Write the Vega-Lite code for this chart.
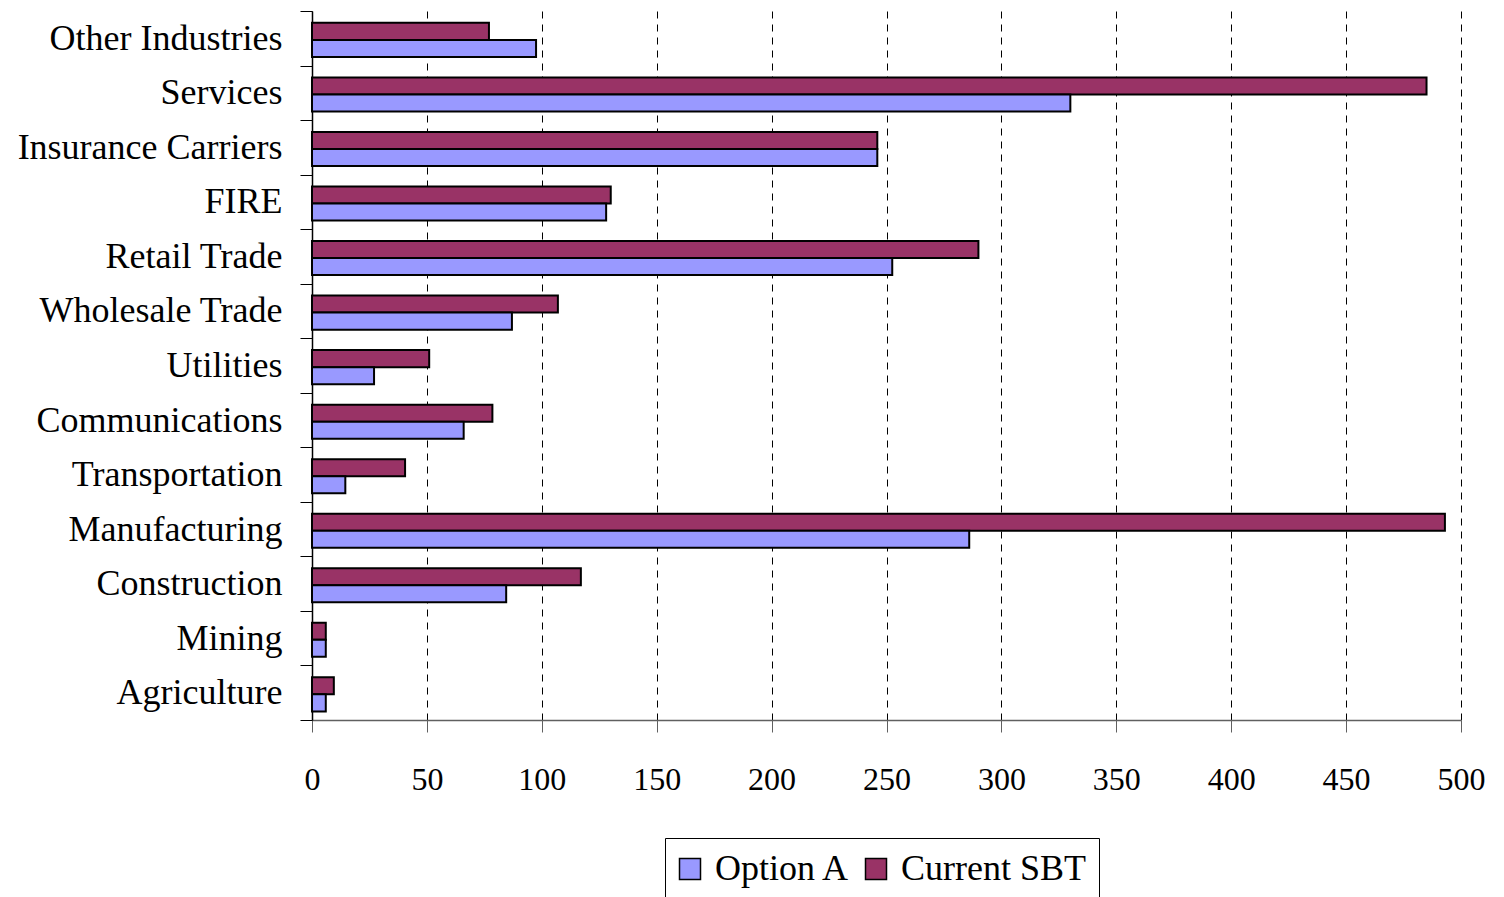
{
  "$schema": "https://vega.github.io/schema/vega-lite/v6.json",
  "width": 1149,
  "height": 709,
  "autosize": {"type": "none"},
  "padding": {"left": 312, "top": 11, "right": 43, "bottom": 177},
  "background": "white",
  "data": {
    "values": [
      {"industry": "Other Industries", "series": "Current SBT", "value": 77},
      {"industry": "Other Industries", "series": "Option A", "value": 97.5},
      {"industry": "Services", "series": "Current SBT", "value": 485},
      {"industry": "Services", "series": "Option A", "value": 330},
      {"industry": "Insurance Carriers", "series": "Current SBT", "value": 246},
      {"industry": "Insurance Carriers", "series": "Option A", "value": 246},
      {"industry": "FIRE", "series": "Current SBT", "value": 130},
      {"industry": "FIRE", "series": "Option A", "value": 128},
      {"industry": "Retail Trade", "series": "Current SBT", "value": 290},
      {"industry": "Retail Trade", "series": "Option A", "value": 252.5},
      {"industry": "Wholesale Trade", "series": "Current SBT", "value": 107},
      {"industry": "Wholesale Trade", "series": "Option A", "value": 87},
      {"industry": "Utilities", "series": "Current SBT", "value": 51},
      {"industry": "Utilities", "series": "Option A", "value": 27},
      {"industry": "Communications", "series": "Current SBT", "value": 78.5},
      {"industry": "Communications", "series": "Option A", "value": 66},
      {"industry": "Transportation", "series": "Current SBT", "value": 40.5},
      {"industry": "Transportation", "series": "Option A", "value": 14.5},
      {"industry": "Manufacturing", "series": "Current SBT", "value": 493},
      {"industry": "Manufacturing", "series": "Option A", "value": 286},
      {"industry": "Construction", "series": "Current SBT", "value": 117},
      {"industry": "Construction", "series": "Option A", "value": 84.5},
      {"industry": "Mining", "series": "Current SBT", "value": 6},
      {"industry": "Mining", "series": "Option A", "value": 6},
      {"industry": "Agriculture", "series": "Current SBT", "value": 9.5},
      {"industry": "Agriculture", "series": "Option A", "value": 6}
    ]
  },
  "mark": {"type": "bar", "stroke": "black", "strokeWidth": 2},
  "encoding": {
    "y": {
      "field": "industry",
      "type": "nominal",
      "sort": ["Other Industries", "Services", "Insurance Carriers", "FIRE", "Retail Trade", "Wholesale Trade", "Utilities", "Communications", "Transportation", "Manufacturing", "Construction", "Mining", "Agriculture"],
      "scale": {"paddingInner": 0, "paddingOuter": 0},
      "axis": {
        "title": null,
        "tickBand": "extent",
        "tickSize": 12,
        "tickColor": "black",
        "domainColor": "black",
        "domainWidth": 1.5,
        "labelFont": "Liberation Serif",
        "labelFontSize": 36,
        "labelColor": "black",
        "labelPadding": 18,
        "labelLimit": 400,
        "grid": false
      }
    },
    "yOffset": {
      "field": "series",
      "type": "nominal",
      "sort": ["Current SBT", "Option A"],
      "scale": {"paddingInner": 0, "paddingOuter": 0.6, "align": 0.58}
    },
    "x": {
      "field": "value",
      "type": "quantitative",
      "scale": {"domain": [0, 500], "nice": false},
      "axis": {
        "title": null,
        "values": [0, 50, 100, 150, 200, 250, 300, 350, 400, 450, 500],
        "tickSize": 12,
        "tickColor": "#606060",
        "domainColor": "#606060",
        "domainWidth": 1.5,
        "labelFont": "Liberation Serif",
        "labelFontSize": 32,
        "labelColor": "black",
        "labelPadding": 32,
        "labelFlush": false,
        "grid": true,
        "gridColor": "black",
        "gridDash": [7, 6],
        "gridWidth": 1
      }
    },
    "color": {
      "field": "series",
      "type": "nominal",
      "scale": {"domain": ["Option A", "Current SBT"], "range": ["#9999FF", "#993366"]},
      "legend": {
        "title": null,
        "orient": "none",
        "direction": "horizontal",
        "legendX": 353,
        "legendY": 827,
        "padding": 13,
        "strokeColor": "black",
        "symbolType": "square",
        "symbolSize": 441,
        "symbolOffset": -6,
        "symbolStrokeColor": "black",
        "symbolStrokeWidth": 1.5,
        "labelFont": "Liberation Serif",
        "labelFontSize": 36,
        "labelColor": "black",
        "labelOffset": 7,
        "columnPadding": 12,
        "labelLimit": 400
      }
    }
  },
  "config": {"view": {"stroke": null}}
}
